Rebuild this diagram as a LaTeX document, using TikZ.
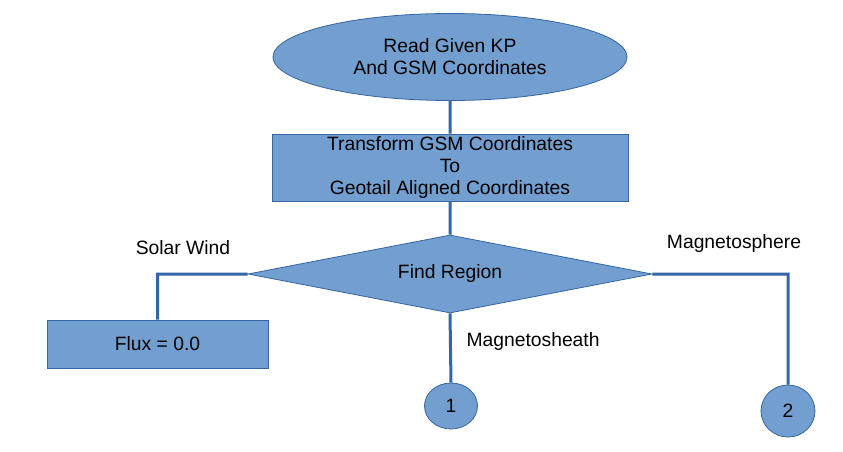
\documentclass[tikz,border=0pt]{standalone}
\usepackage{fontspec}
\setmainfont{Liberation Sans}
\usetikzlibrary{shapes.geometric, positioning}
\definecolor{boxfill}{HTML}{729FCF}
\definecolor{boxline}{HTML}{3465A4}

\begin{document}
\begin{tikzpicture}[x=1pt,y=-1pt,
  every node/.style={font=\fontsize{19.3}{22}\selectfont},
  base/.style={draw=boxline, fill=boxfill, line width=0.8pt, inner sep=0pt, align=center},
  startnode/.style={base, ellipse, minimum width=354pt, minimum height=87pt},
  process/.style={base, rectangle, minimum width=356pt, minimum height=67pt},
  decision/.style={base, diamond, shape aspect=5.2, minimum width=404pt, minimum height=78pt},
  offpage/.style={base, ellipse},
  link/.style={draw=boxline, line width=3pt}]
  \useasboundingbox (0,0) rectangle (843,452);

  \node[startnode] (read) at (450,57) {Read Given KP\\And GSM Coordinates};
  \node[process] (xform) at (450,167.5) {Transform GSM Coordinates\\To\\Geotail Aligned Coordinates};
  \node[decision] (region) at (450,274) {Find Region};
  \node[base, minimum width=221pt, minimum height=48pt] (flux) at (157.5,344) {Flux = 0.0};
  \node[offpage, minimum width=53pt, minimum height=46pt] (one) at (451,406) {1};
  \node[offpage, minimum width=54pt, minimum height=52pt] (two) at (788,411) {2};

  \node (solar) at (183,248) {Solar Wind};
  \node (sphere) at (734,244) {Magnetosphere};
  \node[anchor=west] (sheath) at (463,342) {Magnetosheath};

  \path[link]
    (read.south) -- (xform.north)
    (xform.south) -- (region.north)
    (region.west) -| (flux.north)
    (region.east) -| (two.north)
    (region.south) -- (one.north);
\end{tikzpicture}
\end{document}
